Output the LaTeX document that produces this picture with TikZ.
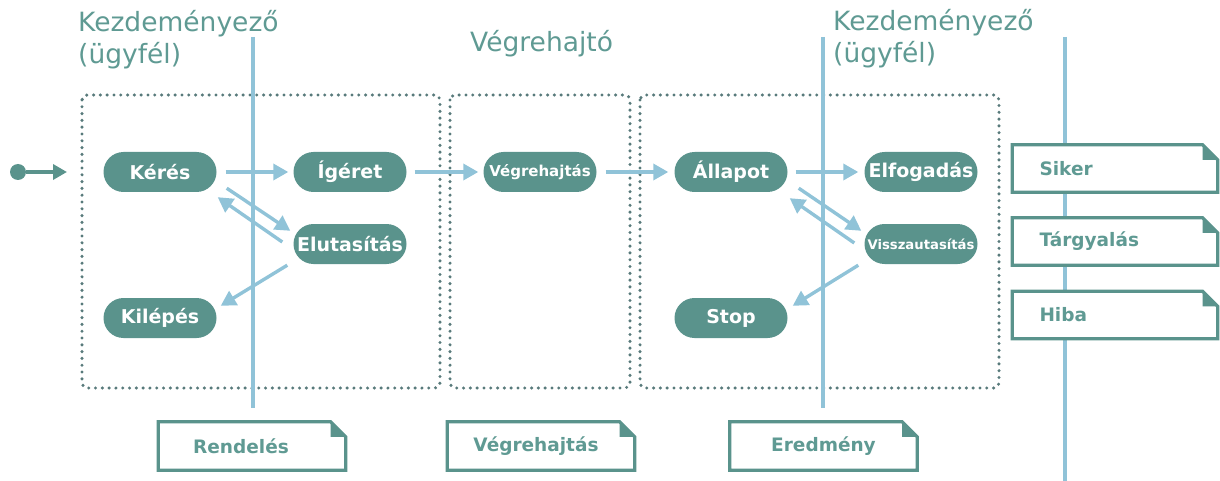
\documentclass[tikz,border=0pt]{standalone}
\usepackage{fontspec}
\setmainfont{DejaVu Sans}
\usetikzlibrary{arrows.meta,calc}
\definecolor{teal1}{HTML}{5A938C}
\definecolor{tealtext}{HTML}{5F9A93}
\definecolor{lblue}{HTML}{90C3D8}
\definecolor{dotc}{HTML}{587A7B}
\begin{document}
\begin{tikzpicture}[x=1pt,y=-1pt,
  state/.style={fill=teal1, rounded corners=20pt, minimum width=113pt, minimum height=40pt,
    text=white, font=\bfseries\fontsize{19}{21}\selectfont, inner sep=0pt},
  smallstate/.style={state, font=\bfseries\fontsize{15}{17}\selectfont},
  tinystate/.style={state, font=\bfseries\fontsize{13.2}{15}\selectfont},
  title/.style={text=tealtext, font=\fontsize{26.5}{30}\selectfont, inner sep=0pt, anchor=base west},
  docR/.style={fill=white, minimum width=205pt, minimum height=47pt, inner xsep=27pt, inner ysep=0pt,
    text width=151pt, align=left, text=tealtext, font=\bfseries\fontsize{18.5}{21}\selectfont},
  docB/.style={fill=white, minimum width=187pt, minimum height=48pt, inner sep=0pt,
    text=tealtext, font=\bfseries\fontsize{18.5}{21}\selectfont},
  docline/.style={draw=teal1, line width=3.2pt, line join=miter},
  dotbox/.style={draw=dotc, line width=3.4pt, dash pattern=on 0pt off 6.8pt, line cap=round, rounded corners=5pt},
  lane/.style={draw=lblue, line width=3.6pt},
  flow/.style={draw=lblue, line width=3.4pt, -{Triangle[length=15pt,width=16pt]}},
]
\useasboundingbox (0,0) rectangle (1220,481);

% titles
\node[title] (t1a) at (78,32) {Kezdeményező};
\node[title] (t1b) at (78,64) {(ügyfél)};
\node[title] (t2) at (470,52) {Végrehajtó};
\node[title] (t3a) at (833,31) {Kezdeményező};
\node[title] (t3b) at (833,63) {(ügyfél)};

% dotted boxes
\draw[dotbox] (82,95) rectangle (440,388);
\draw[dotbox] (450,95) rectangle (630,388);
\draw[dotbox] (640,95) rectangle (999,388);

% lanes
\coordinate (l1t) at (253,37); \coordinate (l1b) at (253,408);
\coordinate (l2t) at (823,37); \coordinate (l2b) at (823,408);
\coordinate (l3t) at (1065,37); \coordinate (l3b) at (1065,481);
\draw[lane] (l1t) -- (l1b);
\draw[lane] (l2t) -- (l2b);
\draw[lane] (l3t) -- (l3b);

% states
\node[state] (keres) at (160,172) {Kérés};
\node[state] (igeret) at (350,172) {Ígéret};
\node[state] (elut) at (350,244) {Elutasítás};
\node[state] (kilep) at (160,318) {Kilépés};
\node[smallstate] (vegre) at (540,172) {Végrehajtás};
\node[state] (allap) at (731,172) {Állapot};
\node[state] (elfog) at (921,172) {Elfogadás};
\node[tinystate] (vissza) at (921,244) {Visszautasítás};
\node[state] (stop) at (731,318) {Stop};

% start
\node[circle, fill=teal1, minimum size=16pt, inner sep=0pt] (start) at (18,172) {};
\coordinate (startend) at (67,172);
\draw[draw=teal1, line width=3.4pt, -{Triangle[length=14pt,width=15pt]}] (start) -- (startend);

% flows left
\draw[flow] ($(keres.east)+(9,0)$) -- ($(igeret.west)+(-5,0)$);
\draw[flow] ($(keres.south east)+(10,-4)$) -- ($(elut.north west)+(-3,7)$);
\draw[flow] ($(elut.west)+(-11,-2)$) -- ($(keres.south east)+(1,5)$);
\draw[flow] ($(elut.south west)+(-6,1)$) -- ($(kilep.north east)+(4,8)$);
\draw[flow] ($(igeret.east)+(8,0)$) -- ($(vegre.west)+(-5,0)$);
\draw[flow] ($(vegre.east)+(9,0)$) -- ($(allap.west)+(-6,0)$);
% flows right
\draw[flow] ($(allap.east)+(8,0)$) -- ($(elfog.west)+(-6,0)$);
\draw[flow] ($(allap.south east)+(11,-4)$) -- ($(vissza.north west)+(-3,7)$);
\draw[flow] ($(vissza.west)+(-10,-1)$) -- ($(allap.south east)+(2,6)$);
\draw[flow] ($(vissza.south west)+(-6,1)$) -- ($(stop.north east)+(5,8)$);

% documents
\node[docR] (siker) at (1115,168.5) {Siker};
\node[docR] (targy) at (1115,241.5) {Tárgyalás};
\node[docR] (hiba) at (1115,315) {Hiba};
\node[docB] (rend) at (252,446) {\hspace*{-22pt}Rendelés};
\node[docB] (vegrd) at (541,446) {\hspace*{-10pt}Végrehajtás};
\node[docB] (ered) at (823.5,446) {Eredmény};
\foreach \n in {siker,targy,hiba,rend,vegrd,ered}{
  \draw[docline] (\n.north west) -- ($(\n.north east)+(-15,0)$) -- ($(\n.north east)+(0,15)$)
     -- (\n.south east) -- (\n.south west) -- cycle;
  \fill[teal1] ($(\n.north east)+(-15,0)$) -- ($(\n.north east)+(0,15)$) -- ($(\n.north east)+(-15,15)$) -- cycle;
}
\end{tikzpicture}
\end{document}
